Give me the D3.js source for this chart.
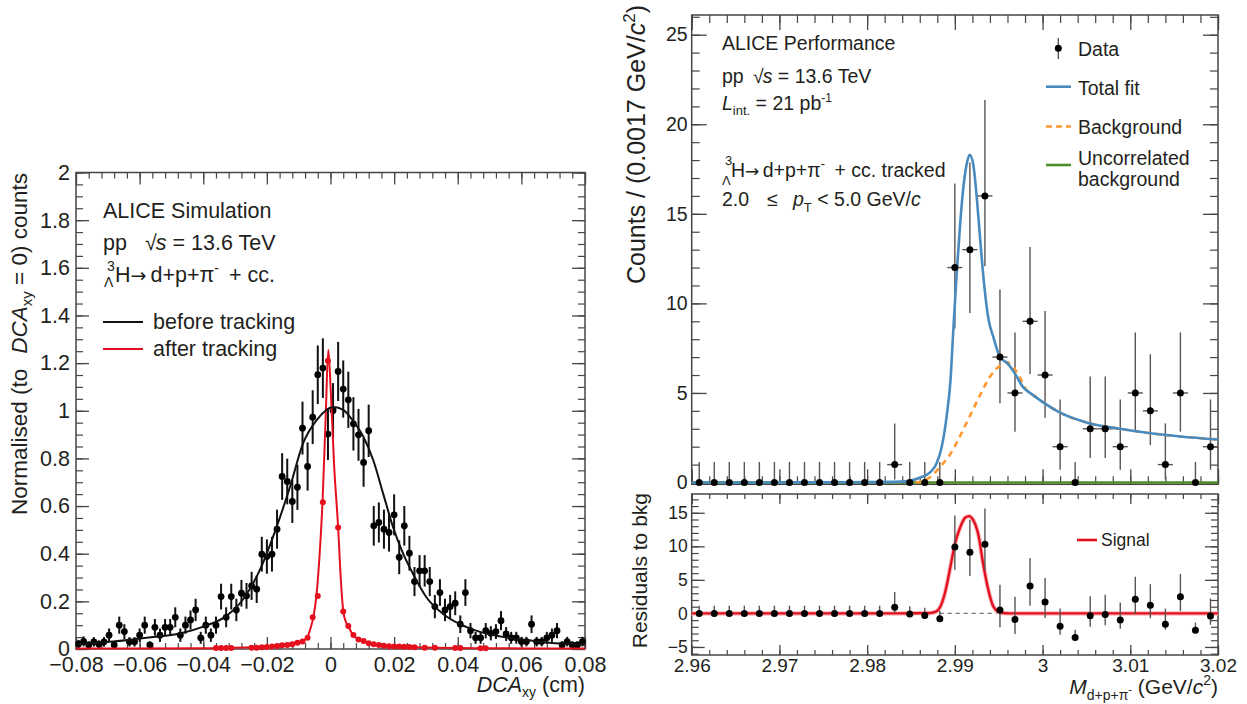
<!DOCTYPE html>
<html>
<head>
<meta charset="utf-8">
<script src="https://cdn.jsdelivr.net/npm/d3@7"></script>
<style>
  body { margin: 0; background: #fff; }
  svg text { font-family: "Liberation Sans", Arial, Helvetica, sans-serif; fill: #231f20; }
</style>
</head>
<body>
<svg id="chart" width="1247" height="704"></svg>
<script>
// ---------- left panel: DCAxy, 100 bins from -0.08 to 0.08 cm ----------
var dcaBefore = [
  0.021, 0.032, 0.017, 0.030, 0.020, 0.030, 0.058, 0.017, 0.100, 0.073,
  0.030, 0.030, 0.058, 0.100, 0.017, 0.091, 0.058, 0.091, 0.091, 0.133,
  0.058, 0.100, 0.122, 0.164, 0.047, 0.100, 0.058, 0.100, 0.220, 0.133,
  0.220, 0.164, 0.234, 0.223, 0.265, 0.251, 0.398, 0.388, 0.398, 0.503,
  0.724, 0.703, 0.619, 0.679, 0.927, 0.766, 0.973, 1.151, 1.179, 0.902,
  1.001, 1.165, 1.091, 1.046, 0.945, 0.899, 0.783, 0.916, 0.517, 0.531,
  0.503, 0.489, 0.563, 0.385, 0.517, 0.402, 0.283, 0.328, 0.328, 0.283,
  0.178, 0.237, 0.164, 0.178, 0.192, 0.104, 0.237, 0.077, 0.047, 0.047,
  0.077, 0.066, 0.073, 0.119, 0.063, 0.047, 0.047, 0.031, 0.031, 0.104,
  0.031, 0.031, 0.047, 0.058, 0.077, 0.017, 0.031, 0.017, 0.017, 0.031];
var dcaBeforeErr = [
  0.017, 0.021, 0.015, 0.020, 0.016, 0.020, 0.028, 0.015, 0.036, 0.031,
  0.020, 0.020, 0.028, 0.036, 0.015, 0.035, 0.028, 0.035, 0.035, 0.042,
  0.028, 0.036, 0.040, 0.047, 0.025, 0.036, 0.028, 0.036, 0.054, 0.042,
  0.054, 0.047, 0.056, 0.054, 0.059, 0.058, 0.073, 0.072, 0.073, 0.082,
  0.098, 0.096, 0.090, 0.095, 0.111, 0.101, 0.113, 0.123, 0.125, 0.109,
  0.115, 0.124, 0.120, 0.118, 0.112, 0.109, 0.102, 0.110, 0.083, 0.084,
  0.082, 0.080, 0.086, 0.071, 0.083, 0.073, 0.061, 0.066, 0.066, 0.061,
  0.049, 0.056, 0.047, 0.049, 0.050, 0.037, 0.056, 0.032, 0.025, 0.025,
  0.032, 0.030, 0.031, 0.040, 0.029, 0.025, 0.025, 0.020, 0.020, 0.037,
  0.020, 0.020, 0.025, 0.028, 0.032, 0.015, 0.020, 0.015, 0.015, 0.020];
var dcaAfter = [
  0, 0, 0, 0, 0, 0, 0, 0, 0, 0,
  0, 0, 0, 0, 0, 0, 0, 0, 0, 0,
  0, 0, 0, 0, 0, 0, 0, 0.004, 0.004, 0.004,
  0.004, 0, 0, 0, 0.005, 0.005, 0.007, 0.008, 0.010, 0.013,
  0.016, 0.017, 0.020, 0.026, 0.031, 0.047, 0.133, 0.222, 0.616, 1.210,
  1.000, 0.510, 0.157, 0.097, 0.059, 0.040, 0.034, 0.024, 0.020, 0.017,
  0.014, 0.012, 0.011, 0.010, 0.009, 0.008, 0.007, 0, 0.005, 0,
  0.005, 0, 0, 0, 0.004, 0.004, 0, 0, 0, 0.003,
  0.003, 0, 0, 0, 0, 0, 0, 0, 0, 0,
  0, 0, 0, 0, 0, 0, 0, 0, 0, 0];
var fitBeforeX = [-0.08, -0.0683, -0.0557, -0.047, -0.04, -0.0326, -0.0274, -0.0222, -0.0169, -0.0127,
  -0.0086, -0.0043, 0.0009, 0.004, 0.0072, 0.0103, 0.0135, 0.0166, 0.0197, 0.0229,
  0.026, 0.0302, 0.0355, 0.0407, 0.047, 0.0554, 0.0638, 0.0722, 0.08];
var fitBeforeY = [0.019, 0.031, 0.050, 0.066, 0.094, 0.140, 0.210, 0.332, 0.514, 0.682,
  0.864, 0.962, 1.016, 1.004, 0.955, 0.892, 0.790, 0.650, 0.510, 0.398,
  0.314, 0.216, 0.146, 0.104, 0.072, 0.048, 0.034, 0.023, 0.018];
var fitAfterX = [-0.08, -0.04, -0.03, -0.02, -0.015, -0.011, -0.009, -0.0075, -0.0062, -0.0053,
  -0.0045, -0.0035, -0.0025, -0.0015, -0.0007, 0.0001, 0.0011, 0.0024, 0.0033, 0.004,
  0.0048, 0.0056, 0.007, 0.009, 0.012, 0.016, 0.02, 0.03, 0.05, 0.08];
var fitAfterY = [0.002, 0.003, 0.005, 0.012, 0.018, 0.027, 0.034, 0.045, 0.090, 0.140,
  0.215, 0.380, 0.620, 0.980, 1.256, 1.080, 0.780, 0.510, 0.280, 0.160,
  0.115, 0.095, 0.060, 0.040, 0.025, 0.016, 0.012, 0.006, 0.003, 0.002];
var dcaTicks = [-0.08, -0.06, -0.04, -0.02, 0, 0.02, 0.04, 0.06, 0.08];
var dcaTickLabels = ["\u22120.08", "\u22120.06", "\u22120.04", "\u22120.02", "0", "0.02", "0.04", "0.06", "0.08"];
var normTicks = [0, 0.2, 0.4, 0.6, 0.8, 1, 1.2, 1.4, 1.6, 1.8, 2];
var normTickLabels = ["0", "0.2", "0.4", "0.6", "0.8", "1", "1.2", "1.4", "1.6", "1.8", "2"];

// ---------- right panel: invariant mass, 35 bins from 2.96 to 3.02 ----------
var massCounts = [0, 0, 0, 0, 0, 0, 0, 0, 0, 0, 0, 0, 0, 1, 0, 0, 0, 12, 13, 16,
  7, 5, 9, 6, 2, 0, 3, 3, 2, 5, 4, 1, 5, 0, 2];
var massLo = [0, 0, 0, 0, 0, 0, 0, 0, 0, 0, 0, 0, 0, 0.17, 0, 0, 0, 8.6, 9.46, 12.08,
  4.42, 2.84, 6.06, 3.62, 0.71, 0, 1.37, 1.37, 0.71, 2.84, 2.09, 0.17, 2.84, 0, 0.71];
var massHi = [1.15, 1.15, 1.15, 1.15, 1.15, 1.15, 1.15, 1.15, 1.15, 1.15, 1.15, 1.15, 1.15, 3.3, 1.15, 1.15, 1.15, 16.69, 17.86, 21.35,
  10.77, 8.38, 13.15, 9.58, 4.64, 1.15, 5.92, 5.92, 4.64, 8.38, 7.16, 3.3, 8.38, 1.15, 4.64];
var residuals = [0, 0, 0, 0, 0, 0, 0, 0, 0, 0, 0, 0, 0, 0.9, -0.1, -0.3, -0.8, 9.9, 9.1, 10.3,
  0.5, -0.9, 4.1, 1.7, -1.9, -3.6, -0.35, -0.15, -1.0, 2.1, 1.2, -1.6, 2.5, -2.5, -0.4];
var resLo = [0, 0, 0, 0, 0, 0, 0, 0, 0, 0, 0, 0, 0, 0.07, -0.1, -0.3, -0.8, 6.5, 5.56, 6.38,
  -2.08, -3.06, 1.16, -0.68, -3.19, -3.6, -1.98, -1.78, -2.29, -0.06, -0.71, -2.43, 0.34, -2.5, -1.69];
var resHi = [1.15, 1.15, 1.15, 1.15, 1.15, 1.15, 1.15, 1.15, 1.15, 1.15, 1.15, 1.15, 1.15, 3.2, 1.05, 0.85, 0.35, 14.59, 13.96, 15.65,
  4.27, 2.48, 8.25, 5.28, 0.74, -2.45, 2.57, 2.77, 1.64, 5.48, 4.36, 0.7, 5.88, -1.35, 2.24];
var totalFitX = [2.96, 2.97, 2.975, 2.98, 2.9838, 2.986, 2.9872, 2.9879, 2.9885, 2.9891,
  2.9895, 2.9898, 2.9902, 2.9906, 2.991, 2.9914, 2.9917, 2.9921, 2.9925, 2.9929,
  2.9933, 2.9938, 2.9944, 2.9952, 2.9959, 2.9967, 2.9978, 2.999, 2.9997, 3.002,
  3.0054, 3.0088, 3.0123, 3.0157, 3.02];
var totalFitY = [0.0, 0.005, 0.01, 0.02, 0.05, 0.27, 0.58, 1.05, 1.98, 3.83,
  5.69, 8.29, 11.6, 14.4, 16.6, 17.9, 18.3, 17.75, 15.9, 13.5,
  11.25, 9.21, 8.1, 6.95, 6.7, 6.2, 5.31, 4.85, 4.6, 3.9,
  3.3, 3.0, 2.75, 2.57, 2.4];
var bkgFitX = [2.9855, 2.986, 2.9872, 2.9883, 2.9895, 2.9906, 2.9917, 2.9929, 2.994, 2.9952,
  2.9959, 2.9967, 2.9975, 2.998, 2.999, 2.9997, 3.002, 3.0054, 3.0088, 3.0123, 3.0157, 3.02];
var bkgFitY = [0.0, 0.03, 0.31, 0.86, 1.6, 2.6, 3.7, 4.9, 5.9, 6.55,
  6.72, 6.4, 5.8, 5.3, 4.85, 4.6, 3.9, 3.3, 3.0, 2.75, 2.57, 2.4];
var signalX = [2.96, 2.98, 2.9838, 2.9872, 2.9879, 2.9883, 2.9889, 2.9895, 2.99, 2.9906,
  2.9912, 2.9916, 2.9921, 2.9927, 2.9932, 2.9938, 2.9944, 2.9952, 2.9963, 3.02];
var signalY = [0, 0, 0, 0.05, 0.3, 0.9, 3.2, 7.0, 10.3, 12.8,
  14.3, 14.5, 13.9, 11.6, 7.6, 3.6, 1.0, 0.1, 0, 0];
var massTicks = [2.96, 2.97, 2.98, 2.99, 3.0, 3.01, 3.02];
var massTickLabels = ["2.96", "2.97", "2.98", "2.99", "3", "3.01", "3.02"];
var countTicks = [0, 5, 10, 15, 20, 25];
var resTicks = [-5, 0, 5, 10, 15];
var resTickLabels = ["\u22125", "0", "5", "10", "15"];

var frameCol = "#4a4443";
var svg = d3.select("#chart");

// rich text: parts with baseline offsets (sub/superscripts)
function rich(parent, x, y, size, parts, opt) {
  opt = opt || {};
  var t = parent.append("text").attr("x", x).attr("y", y)
    .attr("font-size", size).attr("text-anchor", opt.anchor || "start");
  if (opt.transform) t.attr("transform", opt.transform);
  var cur = 0;
  parts.forEach(function(p) {
    if (typeof p === "string") p = {t: p};
    var off = p.off || 0;
    var s = t.append("tspan").text(p.t).attr("dy", off - cur);
    cur = off;
    if (p.fs) s.attr("font-size", p.fs);
    if (p.i) s.attr("font-style", "italic");
    if (p.dx) s.attr("dx", p.dx);
    if (p.ff) s.style("font-family", p.ff);
  });
  return t;
}

function drawTicks(gen, scale, pos, major, minor, lenMaj, lenMin, labels, fs, pad) {
  svg.append("g").attr("transform", pos)
    .call(gen(scale).tickValues(minor).tickSize(lenMin).tickFormat(""))
    .call(function(s) { s.select(".domain").remove(); s.selectAll("line").attr("stroke", frameCol).attr("stroke-width", 1.2); });
  var a = svg.append("g").attr("transform", pos)
    .call(gen(scale).tickValues(major).tickSize(lenMaj).tickPadding(pad || 0)
      .tickFormat(function(d, i) { return labels ? labels[i] : ""; }));
  a.select(".domain").remove();
  a.selectAll("line").attr("stroke", frameCol).attr("stroke-width", 1.3);
  a.attr("font-size", fs || 10).attr("font-family", null);
  a.selectAll("text").attr("fill", "#231f20");
}

// ================= LEFT PANEL =================
var xL = d3.scaleLinear().domain([-0.08, 0.08]).range([76, 585]);
var yL = d3.scaleLinear().domain([0, 2]).range([649, 172.5]);

var minorDca = d3.range(-0.08, 0.0801, 0.004);
var minorNorm = d3.range(0, 2.001, 0.05);
drawTicks(d3.axisBottom, xL, "translate(0,649)", dcaTicks, minorDca, -12, -6, dcaTickLabels, 21.5, 8);
drawTicks(d3.axisTop, xL, "translate(0,172.5)", dcaTicks, minorDca, -12, -6, null);
drawTicks(d3.axisLeft, yL, "translate(76,0)", normTicks, minorNorm, -13, -7, normTickLabels, 21.5, 6);
drawTicks(d3.axisRight, yL, "translate(585,0)", normTicks, minorNorm, -13, -7, null);
svg.append("rect").attr("x", 76).attr("y", 172.5).attr("width", 509).attr("height", 476.5)
  .attr("fill", "none").attr("stroke", frameCol).attr("stroke-width", 1.5);

var dcaX = d3.range(100).map(function(i) { return -0.08 + 0.0016 * (i + 0.5); });
var leftPts = dcaBefore.map(function(v, i) { return {x: dcaX[i], v: v, e: dcaBeforeErr[i]}; });
var redPts = dcaAfter.map(function(v, i) { return {x: dcaX[i], v: v}; }).filter(function(d) { return d.v > 0; });

var gL = svg.append("g");
gL.selectAll("circle.red").data(redPts).enter().append("circle")
  .attr("cx", function(d) { return xL(d.x); }).attr("cy", function(d) { return yL(d.v); })
  .attr("r", 3).attr("fill", "#e5101e");
gL.selectAll("line.bar").data(leftPts).enter().append("line")
  .attr("x1", function(d) { return xL(d.x); }).attr("x2", function(d) { return xL(d.x); })
  .attr("y1", function(d) { return yL(Math.max(0, d.v - d.e)); })
  .attr("y2", function(d) { return yL(d.v + d.e); })
  .attr("stroke", "#111").attr("stroke-width", 2);
gL.selectAll("circle.blk").data(leftPts).enter().append("circle")
  .attr("cx", function(d) { return xL(d.x); }).attr("cy", function(d) { return yL(d.v); })
  .attr("r", 3.4).attr("fill", "#000");

var lineL = d3.line().x(function(d) { return xL(d[0]); }).y(function(d) { return yL(d[1]); })
  .curve(d3.curveMonotoneX);
gL.append("path").datum(fitAfterX.map(function(x, i) { return [x, fitAfterY[i]]; }))
  .attr("d", lineL).attr("fill", "none").attr("stroke", "#e5101e").attr("stroke-width", 2);
gL.append("path").datum(fitBeforeX.map(function(x, i) { return [x, fitBeforeY[i]]; }))
  .attr("d", lineL).attr("fill", "none").attr("stroke", "#111").attr("stroke-width", 2);

// left texts
var arrowFont = "'DejaVu Sans', sans-serif";
svg.append("text").attr("x", 103).attr("y", 218).attr("font-size", 21.5).text("ALICE Simulation");
svg.append("text").attr("x", 103).attr("y", 250).attr("font-size", 21.5).text("pp");
rich(svg, 145, 250, 21.5, ["\u221A", {t: "s", i: true, dx: -1}, " = 13.6 TeV"]);
svg.append("text").attr("x", 107).attr("y", 271).attr("font-size", 14).text("3");
svg.append("text").attr("x", 104).attr("y", 287).attr("font-size", 14).text("\u039B");
rich(svg, 115, 282, 21.5, ["H", {t: "\u2192", ff: arrowFont, fs: 19}, {t: " d+p+\u03C0", dx: -2},
  {t: "-", off: -9, fs: 14}, {t: " + cc.", off: 0, dx: 4}]);

svg.append("line").attr("x1", 103).attr("x2", 143).attr("y1", 322).attr("y2", 322)
  .attr("stroke", "#111").attr("stroke-width", 2);
svg.append("text").attr("x", 153).attr("y", 329).attr("font-size", 21.5).text("before tracking");
svg.append("line").attr("x1", 103).attr("x2", 143).attr("y1", 349).attr("y2", 349)
  .attr("stroke", "#e5101e").attr("stroke-width", 2);
svg.append("text").attr("x", 153).attr("y", 356).attr("font-size", 21.5).text("after tracking");

rich(svg, 0, 0, 22.5, ["Normalised (to", {t: "DCA", i: true, dx: 15}, {t: "xy", off: 5, fs: 15}, {t: " = 0) counts", off: 0}],
  {anchor: "end", transform: "translate(27,173) rotate(-90)"});
rich(svg, 585, 692, 21.5, [{t: "DCA", i: true}, {t: "xy", off: 5, fs: 14}, {t: " (cm)", off: 0}], {anchor: "end"});

// ================= RIGHT PANELS =================
var xR = d3.scaleLinear().domain([2.96, 3.02]).range([691.7, 1218]);
var yT = d3.scaleLinear().domain([-0.1, 26.1]).range([484.3, 15]);
var yB = d3.scaleLinear().domain([-6.2, 17.8]).range([655, 494]);

var minorMass = d3.range(2.96, 3.0201, 0.002);
drawTicks(d3.axisBottom, xR, "translate(0,484.3)", massTicks, minorMass, -15, -8, null);
drawTicks(d3.axisTop, xR, "translate(0,15)", massTicks, minorMass, -15, -8, null);
drawTicks(d3.axisLeft, yT, "translate(691.7,0)", countTicks, d3.range(0, 26.01, 1), -15, -8, countTicks.map(String), 19.5, 4);
drawTicks(d3.axisRight, yT, "translate(1218,0)", countTicks, d3.range(0, 26.01, 1), -15, -8, null);
svg.append("rect").attr("x", 691.7).attr("y", 15).attr("width", 526.3).attr("height", 469.3)
  .attr("fill", "none").attr("stroke", frameCol).attr("stroke-width", 1.5);

drawTicks(d3.axisBottom, xR, "translate(0,655)", massTicks, minorMass, -10, -5, massTickLabels, 19, 4);
drawTicks(d3.axisTop, xR, "translate(0,494)", massTicks, minorMass, -10, -5, null);
drawTicks(d3.axisLeft, yB, "translate(691.7,0)", resTicks, d3.range(-6, 17.01, 1), -13, -7, resTickLabels, 17.5, 4);
drawTicks(d3.axisRight, yB, "translate(1218,0)", resTicks, d3.range(-6, 17.01, 1), -13, -7, null);
svg.append("rect").attr("x", 691.7).attr("y", 494).attr("width", 526.3).attr("height", 161)
  .attr("fill", "none").attr("stroke", frameCol).attr("stroke-width", 1.5);

var halfBin = 0.03 / 35;
var massX = d3.range(35).map(function(i) { return 2.96 + (i + 0.5) * 0.06 / 35; });
var topPts = massCounts.map(function(v, i) { return {x: massX[i], v: v, lo: massLo[i], hi: massHi[i]}; });
var botPts = residuals.map(function(v, i) { return {x: massX[i], v: v, lo: resLo[i], hi: resHi[i]}; });

var lineT = d3.line().x(function(d) { return xR(d[0]); }).y(function(d) { return yT(d[1]); }).curve(d3.curveMonotoneX);
var lineB = d3.line().x(function(d) { return xR(d[0]); }).y(function(d) { return yB(d[1]); }).curve(d3.curveMonotoneX);

var gT = svg.append("g");
var barCol = "#5a5350";
gT.selectAll("line.v").data(topPts).enter().append("line")
  .attr("x1", function(d) { return xR(d.x); }).attr("x2", function(d) { return xR(d.x); })
  .attr("y1", function(d) { return yT(d.lo); }).attr("y2", function(d) { return yT(d.hi); })
  .attr("stroke", barCol).attr("stroke-width", 1.4);
gT.selectAll("line.h").data(topPts).enter().append("line")
  .attr("x1", function(d) { return xR(d.x - halfBin); }).attr("x2", function(d) { return xR(d.x + halfBin); })
  .attr("y1", function(d) { return yT(d.v); }).attr("y2", function(d) { return yT(d.v); })
  .attr("stroke", barCol).attr("stroke-width", 1.4);
// uncorrelated background (flat at zero)
gT.append("path").datum([[2.96, 0], [3.02, 0]]).attr("d", lineT)
  .attr("fill", "none").attr("stroke", "#4e8f2c").attr("stroke-width", 2.5);
gT.append("path").datum(bkgFitX.map(function(x, i) { return [x, bkgFitY[i]]; })).attr("d", lineT)
  .attr("fill", "none").attr("stroke", "#ff982e").attr("stroke-width", 2.6).attr("stroke-dasharray", "6,5");
gT.append("path").datum(totalFitX.map(function(x, i) { return [x, totalFitY[i]]; })).attr("d", lineT)
  .attr("fill", "none").attr("stroke", "#4a8bbf").attr("stroke-width", 2.6);
gT.selectAll("circle").data(topPts).enter().append("circle")
  .attr("cx", function(d) { return xR(d.x); }).attr("cy", function(d) { return yT(d.v); })
  .attr("r", 3.5).attr("fill", "#000");

var gB = svg.append("g");
gB.append("line").attr("x1", xR(2.96)).attr("x2", xR(3.02)).attr("y1", yB(0)).attr("y2", yB(0))
  .attr("stroke", "#777").attr("stroke-width", 1.2).attr("stroke-dasharray", "4,4");
var sig = signalX.map(function(x, i) { return [x, signalY[i]]; });
gB.append("path").datum(sig).attr("d", lineB).attr("fill", "none").attr("stroke", "#f8bcc0").attr("stroke-width", 4.5);
gB.append("path").datum(sig).attr("d", lineB).attr("fill", "none").attr("stroke", "#e3101e").attr("stroke-width", 2.4);
gB.selectAll("line.v").data(botPts).enter().append("line")
  .attr("x1", function(d) { return xR(d.x); }).attr("x2", function(d) { return xR(d.x); })
  .attr("y1", function(d) { return yB(d.lo); }).attr("y2", function(d) { return yB(d.hi); })
  .attr("stroke", barCol).attr("stroke-width", 1.4);
gB.selectAll("circle").data(botPts).enter().append("circle")
  .attr("cx", function(d) { return xR(d.x); }).attr("cy", function(d) { return yB(d.v); })
  .attr("r", 3.5).attr("fill", "#000");

// right texts
svg.append("text").attr("x", 722).attr("y", 50).attr("font-size", 19.5).text("ALICE Performance");
svg.append("text").attr("x", 722).attr("y", 83).attr("font-size", 19.5).text("pp");
rich(svg, 753, 83, 19.5, ["\u221A", {t: "s", i: true, dx: -1}, " = 13.6 TeV"]);
rich(svg, 722, 110, 19.5, [{t: "L", i: true}, {t: "int.", off: 5, fs: 13}, {t: " = 21 pb", off: 0}, {t: "-1", off: -8, fs: 12}]);
svg.append("text").attr("x", 725).attr("y", 165).attr("font-size", 13).text("3");
svg.append("text").attr("x", 722).attr("y", 185).attr("font-size", 13).text("\u039B");
rich(svg, 731, 177, 19.5, ["H", {t: "\u2192", ff: arrowFont, fs: 17}, {t: " d+p+\u03C0", dx: -2},
  {t: "-", off: -9, fs: 13}, {t: " + cc. tracked", off: 0, dx: 4}]);
svg.append("text").attr("x", 722).attr("y", 206).attr("font-size", 19.5).text("2.0");
svg.append("text").attr("x", 767).attr("y", 206).attr("font-size", 19.5).text("\u2264");
rich(svg, 793, 206, 19.5, [{t: "p", i: true}, {t: "T", off: 6, fs: 13}, {t: " < 5.0 GeV/", off: 0}, {t: "c", i: true}]);

// legend
svg.append("line").attr("x1", 1058.3).attr("x2", 1058.3).attr("y1", 38).attr("y2", 59).attr("stroke", barCol).attr("stroke-width", 1.4);
svg.append("circle").attr("cx", 1058.3).attr("cy", 48.3).attr("r", 3.5).attr("fill", "#000");
svg.append("text").attr("x", 1078).attr("y", 56).attr("font-size", 19.5).text("Data");
svg.append("line").attr("x1", 1046).attr("x2", 1071).attr("y1", 86.7).attr("y2", 86.7).attr("stroke", "#4a8bbf").attr("stroke-width", 2.6);
svg.append("text").attr("x", 1078).attr("y", 95).attr("font-size", 19.5).text("Total fit");
svg.append("line").attr("x1", 1046).attr("x2", 1071).attr("y1", 126.5).attr("y2", 126.5).attr("stroke", "#ff982e")
  .attr("stroke-width", 2.6).attr("stroke-dasharray", "6,4");
svg.append("text").attr("x", 1078).attr("y", 134).attr("font-size", 19.5).text("Background");
svg.append("line").attr("x1", 1046).attr("x2", 1071).attr("y1", 165).attr("y2", 165).attr("stroke", "#4e8f2c").attr("stroke-width", 2.6);
svg.append("text").attr("x", 1078).attr("y", 165).attr("font-size", 19.5).text("Uncorrelated");
svg.append("text").attr("x", 1078).attr("y", 186).attr("font-size", 19.5).text("background");
svg.append("line").attr("x1", 1077).attr("x2", 1097).attr("y1", 540).attr("y2", 540).attr("stroke", "#e3101e").attr("stroke-width", 2.6);
svg.append("text").attr("x", 1101).attr("y", 546).attr("font-size", 17.5).text("Signal");

// axis titles
rich(svg, 0, 0, 25, ["Counts / (0.0017 GeV/", {t: "c", i: true}, {t: "2", off: -10, fs: 17}, {t: ")", off: 0}],
  {anchor: "end", transform: "translate(645,5) rotate(-90)"});
rich(svg, 0, 0, 21, ["Residuals to bkg"], {anchor: "end", transform: "translate(647,493) rotate(-90)"});
rich(svg, 1218, 694, 21, [{t: "M", i: true}, {t: "d+p+\u03C0", off: 6, fs: 14}, {t: "-", off: -1, fs: 11},
  {t: " (GeV/", off: 0}, {t: "c", i: true}, {t: "2", off: -9, fs: 14}, {t: ")", off: 0}], {anchor: "end"});
</script>
</body>
</html>
